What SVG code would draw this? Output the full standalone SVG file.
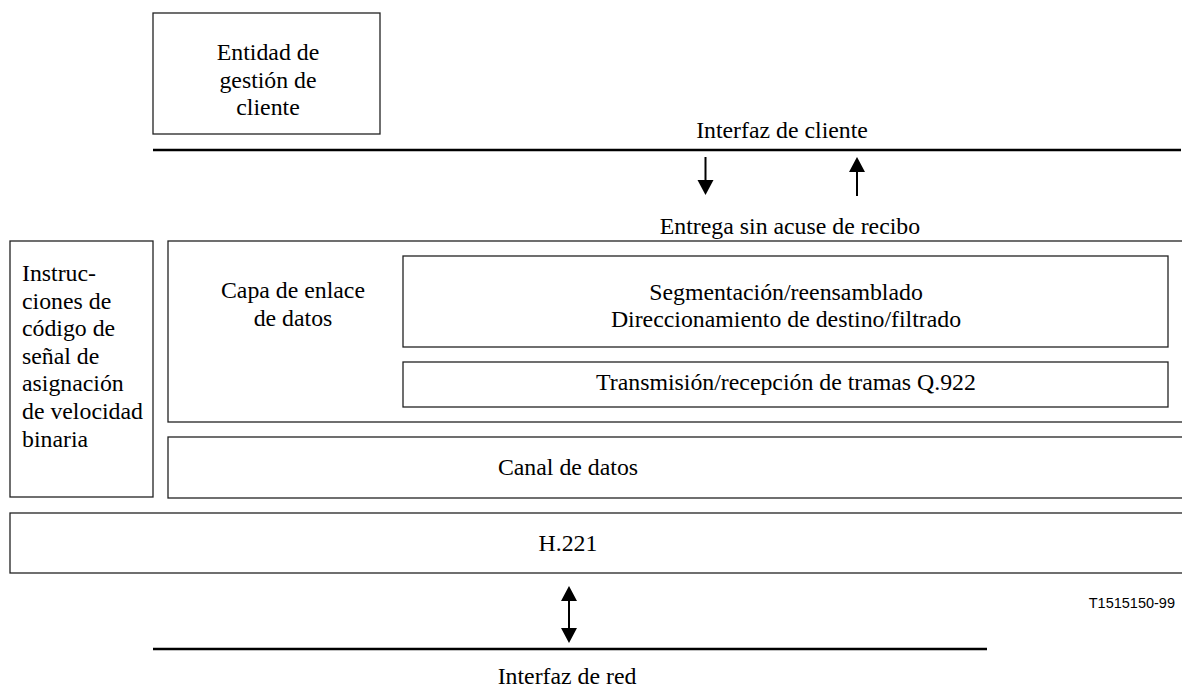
<svg xmlns="http://www.w3.org/2000/svg" width="1182" height="691" viewBox="0 0 1182 691">
<style>
.box{fill:none;stroke:#222;stroke-width:1.3}
.t{font-family:"Liberation Serif","Times New Roman",serif;font-size:23.8px;fill:#000}
.m{text-anchor:middle}
.iface{stroke:#000;stroke-width:2.6;fill:none}
.shaft{stroke:#000;stroke-width:2;fill:none}
.head{fill:#000;stroke:none}
.code{font-family:"Liberation Sans",Arial,sans-serif;font-size:14.5px;fill:#000;text-anchor:end}
</style>
<rect width="1182" height="691" fill="#fff"/>
<g id="entidad">
<rect class="box" x="153" y="13" width="227" height="121"/>
<text class="t m" x="268" y="60">Entidad de</text>
<text class="t m" x="268" y="87.5">gestión de</text>
<text class="t m" x="268" y="115">cliente</text>
</g>
<g id="interfaz-cliente">
<line class="iface" x1="153" y1="150" x2="1181" y2="150"/>
<text class="t m" x="782" y="138">Interfaz de cliente</text>
</g>
<g id="entrega">
<text class="t m" x="790" y="234">Entrega sin acuse de recibo</text>
</g>
<g id="instrucciones">
<rect class="box" x="10" y="241" width="143" height="256"/>
<text class="t" x="22" y="281">Instruc-</text>
<text class="t" x="22" y="308.6">ciones de</text>
<text class="t" x="22" y="336.2">código de</text>
<text class="t" x="22" y="363.8">señal de</text>
<text class="t" x="22" y="391.4">asignación</text>
<text class="t" x="22" y="419">de velocidad</text>
<text class="t" x="22" y="446.6">binaria</text>
</g>
<g id="capa-enlace">
<rect class="box" x="168" y="241" width="1020" height="181"/>
<text class="t m" x="293" y="298">Capa de enlace</text>
<text class="t m" x="293" y="326">de datos</text>
</g>
<g id="segmentacion">
<rect class="box" x="403" y="256" width="765" height="91"/>
<text class="t m" x="786" y="300">Segmentación/reensamblado</text>
<text class="t m" x="786" y="327">Direccionamiento de destino/filtrado</text>
</g>
<g id="transmision">
<rect class="box" x="403" y="362" width="765" height="45"/>
<text class="t m" x="786" y="390">Transmisión/recepción de tramas Q.922</text>
</g>
<g id="canal">
<rect class="box" x="168" y="437" width="1020" height="61"/>
<text class="t m" x="568" y="475">Canal de datos</text>
</g>
<g id="h221">
<rect class="box" x="10" y="513" width="1180" height="60"/>
<text class="t m" x="568" y="551">H.221</text>
</g>
<g id="interfaz-red">
<line class="iface" x1="153" y1="649" x2="987" y2="649"/>
<text class="t m" x="567" y="684">Interfaz de red</text>
</g>
<text class="code" x="1175" y="608">T1515150-99</text>
<g id="connectors">
<line class="shaft" x1="705.5" y1="157" x2="705.5" y2="182"/>
<polygon class="head" points="697.5,180 713.5,180 705.5,195"/>
<line class="shaft" x1="857" y1="170" x2="857" y2="196"/>
<polygon class="head" points="849,172 865,172 857,157"/>
<line class="shaft" x1="569" y1="598" x2="569" y2="630"/>
<polygon class="head" points="561,601 577,601 569,586"/>
<polygon class="head" points="561,628 577,628 569,643"/>
</g>
</svg>
